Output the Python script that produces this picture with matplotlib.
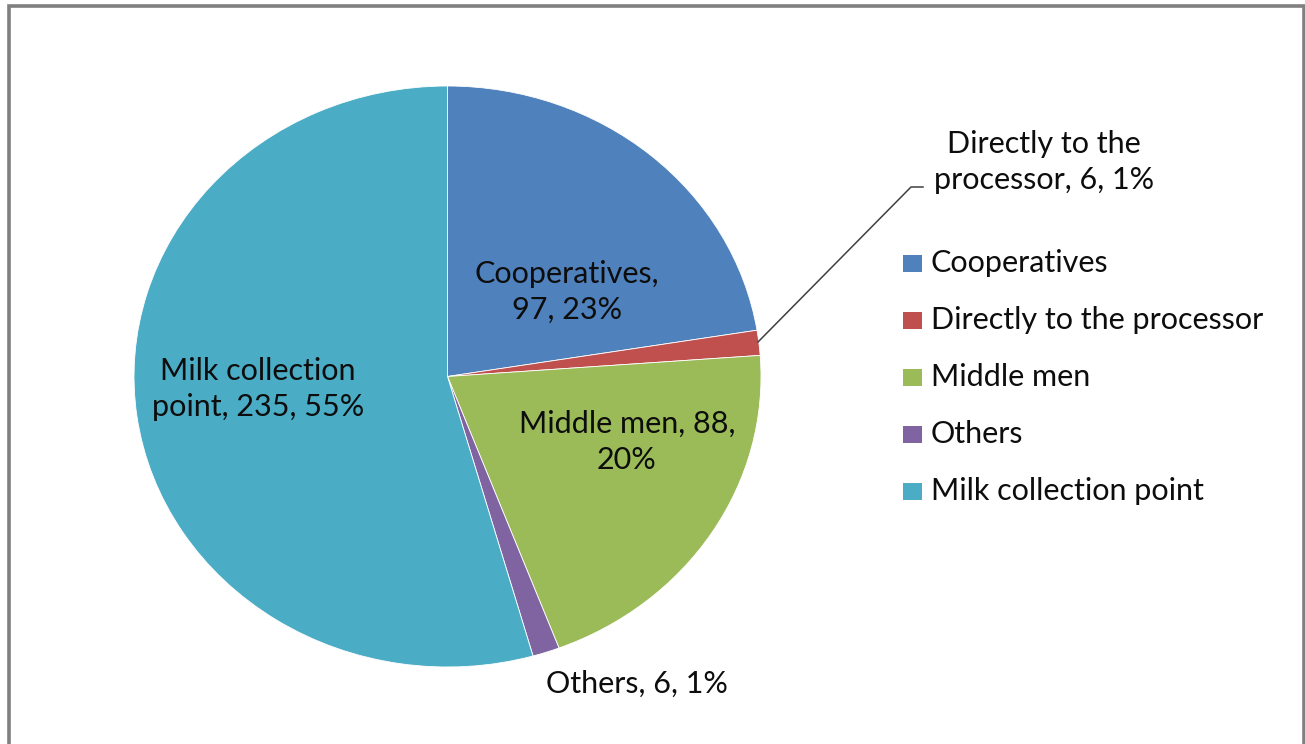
import matplotlib
matplotlib.use("Agg")
import matplotlib.pyplot as plt
from matplotlib.patches import Rectangle

# Milk marketing channels
categories = ["Cooperatives", "Directly to the processor", "Middle men",
              "Others", "Milk collection point"]
counts = [97, 6, 88, 6, 235]
percents = [23, 1, 20, 1, 55]
colors = ["#4F81BD", "#C0504D", "#9BBB59", "#8064A2", "#4BACC6"]

W, H = 1305, 744
FONT = "Lato"
FS = 22

fig = plt.figure(figsize=(W / 100, H / 100), dpi=100)
fig.patch.set_facecolor("white")

# pie axes sized to the bounding box of the (slightly wide) pie
px0, py0, px1, py1 = 134, 86, 761, 667
pie_ax = fig.add_axes([px0 / W, 1 - py1 / H, (px1 - px0) / W, (py1 - py0) / H])
pie_ax.pie(counts, colors=colors, startangle=90, counterclock=False, radius=1,
           wedgeprops=dict(edgecolor="white", linewidth=0.6))
pie_ax.set_aspect("auto")
pie_ax.set_xlim(-1, 1)
pie_ax.set_ylim(-1, 1)
pie_ax.axis("off")

# overlay in pixel coordinates for labels, legend and frame
ov = fig.add_axes([0, 0, 1, 1])
ov.set_xlim(0, W)
ov.set_ylim(H, 0)
ov.axis("off")
ov.patch.set_alpha(0)

# chart frame
ov.plot([8.5, 8.5, 1303.5, 1303.5], [H + 5, 5.5, 5.5, H + 5],
        color="#808080", lw=2.6, solid_joinstyle="miter", clip_on=False)

# data labels
label_text = [
    f"{categories[0]},\n{counts[0]}, {percents[0]}%",
    f"Directly to the\nprocessor, {counts[1]}, {percents[1]}%",
    f"{categories[2]}, {counts[2]},\n{percents[2]}%",
    f"{categories[3]}, {counts[3]}, {percents[3]}%",
    f"Milk collection\npoint, {counts[4]}, {percents[4]}%",
]
label_pos = [(567, 292), (1044, 162), (627, 442), (637, 684), (258, 389)]
for txt, (x, y) in zip(label_text, label_pos):
    ov.text(x, y, txt, ha="center", va="center", fontsize=FS, family=FONT,
            color="#0d0d0d", linespacing=1.33)

# leader line for the small red slice
ov.plot([758, 911, 923], [342, 187, 187], color="#404040", lw=1.1)

# legend
leg_x, leg_y0, leg_dy = 903, 263, 57
for i, (name, c) in enumerate(zip(categories, colors)):
    y = leg_y0 + i * leg_dy
    ov.add_patch(Rectangle((leg_x, y - 8.5), 19, 17, facecolor=c, edgecolor="none"))
    ov.text(leg_x + 28, y, name, ha="left", va="center", fontsize=FS,
            family=FONT, color="#0d0d0d")

fig.savefig("out.png", dpi=100)
